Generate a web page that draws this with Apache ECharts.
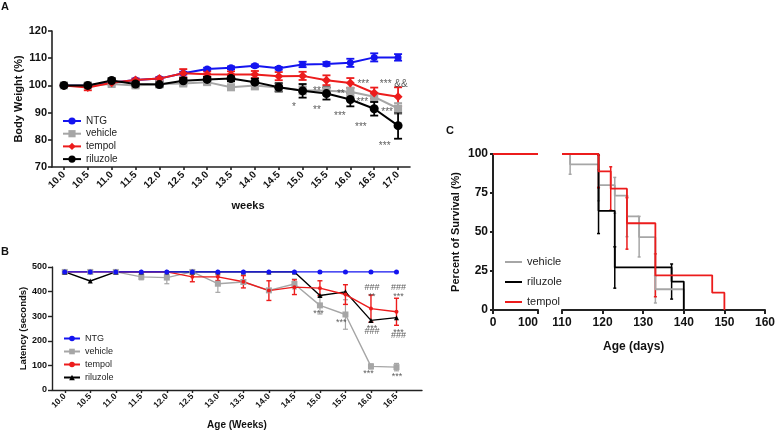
<!DOCTYPE html>
<html>
<head>
<meta charset="utf-8">
<script src="https://cdn.jsdelivr.net/npm/echarts@6/dist/echarts.min.js"></script>
<style>
  html, body { margin: 0; padding: 0; background: #fff; }
  #chart { width: 778px; height: 431px; }
</style>
</head>
<body>
<div id="chart"></div>
<script>
// ---- panel A: body weight (%)
const weeksA = [10.0, 10.5, 11.0, 11.5, 12.0, 12.5, 13.0, 13.5, 14.0, 14.5, 15.0, 15.5, 16.0, 16.5, 17.0];
const ntgA      = [100, 100, 101, 102, 102.5, 104.5, 106, 106.5, 107.2, 106.3, 107.7, 107.9, 108.3, 110.3, 110.3];
const vehicleA  = [100, 100, 100.5, 100, 100.5, 100.7, 101.2, 99.3, 100, 99.2, 98.2, 98, 97.7, 95.8, 91.5];
const tempolA   = [100, 99.2, 101, 102, 102.5, 104.5, 104.1, 104, 104, 103.4, 103.5, 101.9, 100.9, 97.2, 95.8];
const riluzoleA = [100, 100, 101.8, 100.5, 100.3, 101.7, 102.2, 102.5, 101.2, 99.3, 98, 97, 94.8, 91.4, 85.2];
// SEM
const ntgErrA      = [0.3, 0.3, 0.3, 0.5, 0.5, 0.5, 0.5, 0.5, 0.5, 0.5, 1, 0.7, 1.5, 1.5, 1.2];
const vehicleErrA  = [0.5, 0.5, 0.5, 0.8, 0.8, 0.8, 0.8, 1, 1.5, 1.5, 1.5, 1.5, 1.5, 1.5, 2];
const tempolErrA   = [0.5, 1, 0.5, 0.5, 0.5, 1.5, 1, 1.2, 1.3, 1.5, 1.5, 1.8, 1.8, 2, 3.5];
const riluzoleErrA = [0.5, 0.5, 0.8, 0.8, 1, 1, 1, 1, 1.3, 1.5, 2.5, 2.2, 2.5, 2.5, 4.8];
// significance marks [week, value, text]
const starsA = [
  [16.27, 101.7, '***'], [16.91, 101.6, '*** &&'], [15.30, 98.9, '**'], [15.80, 97.8, '**'],
  [16.25, 94.8, '***'], [16.77, 91.2, '***'], [14.82, 93.0, '*'], [15.30, 92.1, '**'],
  [15.78, 89.9, '***'], [16.22, 85.9, '***'], [16.72, 78.6, '***']
];

// ---- panel B: latency (seconds)
const weeksB = [10.0, 10.5, 11.0, 11.5, 12.0, 12.5, 13.0, 13.5, 14.0, 14.5, 15.0, 15.5, 16.0, 16.5];
const ntgB      = [480, 480, 480, 480, 480, 480, 480, 480, 480, 480, 480, 480, 480, 480];
const vehicleB  = [480, 480, 480, 460, 457, 480, 432, 439, 405, 431, 344, 307, 96, 93];
const tempolB   = [480, 480, 480, 480, 480, 460, 460, 440, 404, 418, 414, 388, 331, 318];
const riluzoleB = [480, 443, 480, 480, 480, 480, 480, 480, 480, 480, 384, 399, 283, 294];
const vehicleErrB = [0, 0, 0, 12, 25, 0, 35, 0, 0, 20, 35, 60, 10, 15];
const tempolErrB  = [0, 0, 0, 0, 0, 20, 15, 25, 40, 30, 30, 40, 55, 55];
const starsB = [
  [14.97, 323, '***'], [15.42, 287, '***'],
  [16.02, 415, '###'], [16.02, 392, '**'], [16.54, 415, '###'], [16.54, 392, '***'],
  [16.02, 263, '***'], [16.02, 236, '###'], [16.54, 247, '***'], [16.54, 220, '###'],
  [15.95, 78, '***'], [16.51, 69, '***']
];

// ---- panel C: survival (%)
const vehicleDays  = [110, 112, 119, 123, 126, 129, 133, 140];
const vehicleSurv  = [100, 93.3, 80, 73.3, 60, 46.7, 13.3, 0];
const riluzoleDays = [110, 119, 123, 137, 140];
const riluzoleSurv = [100, 63.6, 27.3, 18.2, 0];
const tempolDays   = [110, 119, 122, 126, 133, 147, 150];
const tempolSurv   = [100, 88.9, 77.8, 55.6, 22.2, 11.1, 0];
// [day, low, high]
const vehicleErrC  = [[112, 87, 100], [119, 70, 90], [123, 62, 85], [126, 47, 73], [129, 34, 60], [133, 4.5, 22]];
const riluzoleErrC = [[119, 49, 78.5], [123, 14, 40.5], [137, 7, 29.5]];
const tempolErrC   = [[119, 78.5, 99.3], [122, 64, 91.8], [126, 39, 72], [133, 8.5, 36]];

const FONT = 'Liberation Sans, Arial, Helvetica, sans-serif';
const BLUE = '#1414f0', GRAY = '#a6a6a6', RED = '#ec1c1c', BLACK = '#000000';

const chart = echarts.init(document.getElementById('chart'));

function pairs(xs, ys) { return xs.map((x, i) => [x, ys[i]]); }
function errData(xs, ys, es) {
  return xs.map((x, i) => [x, ys[i] - es[i], ys[i] + es[i]]).filter(d => d[2] > d[1]);
}
function errRender(cap, lw) {
  return function (params, api) {
    const x = api.value(0);
    const a = api.coord([x, api.value(1)]);
    const b = api.coord([x, api.value(2)]);
    const st = { stroke: api.visual('color'), lineWidth: lw };
    return {
      type: 'group',
      children: [
        { type: 'line', shape: { x1: a[0], y1: a[1], x2: b[0], y2: b[1] }, style: st },
        { type: 'line', shape: { x1: a[0] - cap, y1: a[1], x2: a[0] + cap, y2: a[1] }, style: st },
        { type: 'line', shape: { x1: b[0] - cap, y1: b[1], x2: b[0] + cap, y2: b[1] }, style: st }
      ]
    };
  };
}
function errSeries(data, color, gi, cap, lw) {
  return {
    type: 'custom', xAxisIndex: gi, yAxisIndex: gi, data: data,
    itemStyle: { color: color }, renderItem: errRender(cap, lw),
    encode: { x: 0, y: [1, 2] }, z: 3
  };
}
function starSeries(list, gi, size) {
  return {
    type: 'scatter', xAxisIndex: gi, yAxisIndex: gi, symbolSize: 1,
    itemStyle: { color: 'rgba(0,0,0,0)' }, z: 5,
    data: list.map(d => ({
      value: [d[0], d[1]],
      label: { formatter: d[2], offset: [0, d[2][0] === '*' ? 3 : 0] }
    })),
    label: { show: true, position: 'inside', fontSize: size, color: '#333', fontFamily: FONT }
  };
}
function axisBase(w, fs) {
  return {
    axisLine: { show: true, onZero: false, lineStyle: { color: '#222', width: w } },
    axisTick: { show: true, length: 4, lineStyle: { color: '#222', width: w } },
    splitLine: { show: false },
    axisLabel: { color: '#111', fontSize: fs, fontWeight: 'bold', fontFamily: FONT, margin: 5 },
    nameTextStyle: { color: '#111', fontWeight: 'bold', fontFamily: FONT }
  };
}
function lineA(name, ys, color, symbol, size) {
  return {
    type: 'line', name: name, xAxisIndex: 0, yAxisIndex: 0, data: pairs(weeksA, ys),
    symbol: symbol, symbolSize: size, color: color,
    lineStyle: { width: 2 }, z: 4
  };
}
function lineB(name, ys, color, symbol, size) {
  return {
    type: 'line', name: name, xAxisIndex: 1, yAxisIndex: 1, data: pairs(weeksB, ys),
    symbol: symbol, symbolSize: size, color: color,
    lineStyle: { width: 1.4 }, z: 4
  };
}
function stepC(name, days, surv, color) {
  return {
    type: 'line', name: name, xAxisIndex: 3, yAxisIndex: 3, data: pairs(days, surv),
    step: 'end', symbol: 'none', color: color, lineStyle: { width: 1.8 }, z: 4
  };
}
const legendName = n => n.split('|')[1];

const axA = axisBase(1.6, 11), axB = axisBase(1.4, 9), axC = axisBase(2, 12);

chart.setOption({
  animation: false,
  textStyle: { fontFamily: FONT },
  graphic: [
    { type: 'text', left: 1, top: 1, style: { text: 'A', font: 'bold 11px ' + FONT, fill: '#111' } },
    { type: 'text', left: 1, top: 246, style: { text: 'B', font: 'bold 11px ' + FONT, fill: '#111' } },
    { type: 'text', left: 446, top: 125, style: { text: 'C', font: 'bold 11px ' + FONT, fill: '#111' } },
    { type: 'text', left: 603, top: 341, style: { text: 'Age (days)', font: 'bold 12px ' + FONT, fill: '#111' } }
  ],
  legend: [
    {
      data: ['A|NTG', 'A|vehicle', 'A|tempol', 'A|riluzole'], formatter: legendName,
      orient: 'vertical', left: 57, top: 110, itemGap: 0.7, itemWidth: 18, itemHeight: 9,
      textStyle: { fontSize: 10, color: '#222', lineHeight: 12 }
    },
    {
      data: ['B|NTG', 'B|vehicle', 'B|tempol', 'B|riluzole'], formatter: legendName,
      orient: 'vertical', left: 58, top: 328, itemGap: 2, itemWidth: 16, itemHeight: 7,
      textStyle: { fontSize: 9, color: '#222', lineHeight: 11 }
    },
    {
      data: ['C|vehicle', 'C|riluzole', 'C|tempol'], formatter: legendName,
      orient: 'vertical', left: 499, top: 251, itemGap: 8, itemWidth: 17, itemHeight: 8,
      itemStyle: { opacity: 0 },
      textStyle: { fontSize: 11, color: '#222', lineHeight: 12 }
    }
  ],
  grid: [
    { left: 52, top: 31, width: 358, height: 136 },
    { left: 52, top: 267, width: 370, height: 124 },
    { left: 493, top: 154, width: 45, height: 156 },
    { left: 562, top: 154, width: 206, height: 156 }
  ],
  xAxis: [
    Object.assign({}, axA, {
      gridIndex: 0, type: 'value', min: 9.75, max: 17.25,
      axisTick: Object.assign({}, axA.axisTick, { customValues: weeksA, length: 3 }),
      axisLabel: Object.assign({}, axA.axisLabel, {
        customValues: weeksA, formatter: v => v.toFixed(1), rotate: 45, fontSize: 10, margin: 6
      }),
      name: 'weeks', nameLocation: 'middle', nameGap: 33,
      nameTextStyle: Object.assign({}, axA.nameTextStyle, { fontSize: 11, padding: [0, 0, 0, 34] })
    }),
    Object.assign({}, axB, {
      gridIndex: 1, type: 'value', min: 9.75, max: 17.0,
      axisTick: Object.assign({}, axB.axisTick, { customValues: weeksB, length: 3 }),
      axisLabel: Object.assign({}, axB.axisLabel, {
        customValues: weeksB, formatter: v => v.toFixed(1), rotate: 45, fontSize: 8.5, margin: 5
      }),
      name: 'Age (Weeks)', nameLocation: 'middle', nameGap: 30,
      nameTextStyle: Object.assign({}, axB.nameTextStyle, { fontSize: 10 })
    }),
    Object.assign({}, axC, {
      gridIndex: 2, type: 'value', min: 0, max: 100, interval: 100,
      axisLabel: Object.assign({}, axC.axisLabel, { alignMaxLabel: 'right', margin: 7 })
    }),
    Object.assign({}, axC, {
      gridIndex: 3, type: 'value', min: 110, max: 160, interval: 10,
      axisLabel: Object.assign({}, axC.axisLabel, { margin: 7 })
    })
  ],
  yAxis: [
    Object.assign({}, axA, {
      gridIndex: 0, type: 'value', min: 70, max: 120, interval: 10,
      name: 'Body Weight (%)', nameLocation: 'middle', nameRotate: 90, nameGap: 24,
      nameTextStyle: Object.assign({}, axA.nameTextStyle, { fontSize: 11 })
    }),
    Object.assign({}, axB, {
      gridIndex: 1, type: 'value', min: 0, max: 500, interval: 100,
      name: 'Latency (seconds)', nameLocation: 'middle', nameRotate: 90, nameGap: 24,
      nameTextStyle: Object.assign({}, axB.nameTextStyle, { fontSize: 9.5 })
    }),
    Object.assign({}, axC, {
      gridIndex: 2, type: 'value', min: 0, max: 100, interval: 25,
      axisTick: Object.assign({}, axC.axisTick, { length: 3 }),
      axisLabel: Object.assign({}, axC.axisLabel, { margin: 5 }),
      name: 'Percent of Survival (%)', nameLocation: 'middle', nameRotate: 90, nameGap: 32,
      nameTextStyle: Object.assign({}, axC.nameTextStyle, { fontSize: 11 })
    }),
    { gridIndex: 3, type: 'value', min: 0, max: 100, show: false }
  ],
  series: [
    // A
    errSeries(errData(weeksA, ntgA, ntgErrA), BLUE, 0, 4, 1.8),
    errSeries(errData(weeksA, tempolA, tempolErrA), RED, 0, 4, 1.8),
    errSeries(errData(weeksA, vehicleA, vehicleErrA), GRAY, 0, 4, 1.8),
    errSeries(errData(weeksA, riluzoleA, riluzoleErrA), BLACK, 0, 4, 1.8),
    lineA('A|NTG', ntgA, BLUE, 'circle', 7),
    lineA('A|vehicle', vehicleA, GRAY, 'rect', 8),
    lineA('A|tempol', tempolA, RED, 'diamond', 9),
    lineA('A|riluzole', riluzoleA, BLACK, 'circle', 9),
    starSeries(starsA, 0, 10),
    // B
    errSeries(errData(weeksB, vehicleB, vehicleErrB), GRAY, 1, 2.5, 1.2),
    errSeries(errData(weeksB, tempolB, tempolErrB), RED, 1, 2.5, 1.4),
    lineB('B|vehicle', vehicleB, GRAY, 'rect', 6),
    lineB('B|riluzole', riluzoleB, BLACK, 'triangle', 5),
    lineB('B|tempol', tempolB, RED, 'circle', 4),
    lineB('B|NTG', ntgB, BLUE, 'circle', 5),
    starSeries(starsB, 1, 9),
    // C, left segment (0-100 days)
    {
      type: 'line', xAxisIndex: 2, yAxisIndex: 2, data: [[0, 100], [100, 100]],
      symbol: 'none', color: RED, lineStyle: { width: 1.8 }
    },
    // C, right segment (110-160 days)
    errSeries(vehicleErrC, GRAY, 3, 1.5, 1.5),
    errSeries(riluzoleErrC, BLACK, 3, 1.5, 1.5),
    errSeries(tempolErrC, RED, 3, 1.5, 1.5),
    stepC('C|vehicle', vehicleDays, vehicleSurv, GRAY),
    stepC('C|riluzole', riluzoleDays, riluzoleSurv, BLACK),
    stepC('C|tempol', tempolDays, tempolSurv, RED)
  ]
});
</script>
</body>
</html>
